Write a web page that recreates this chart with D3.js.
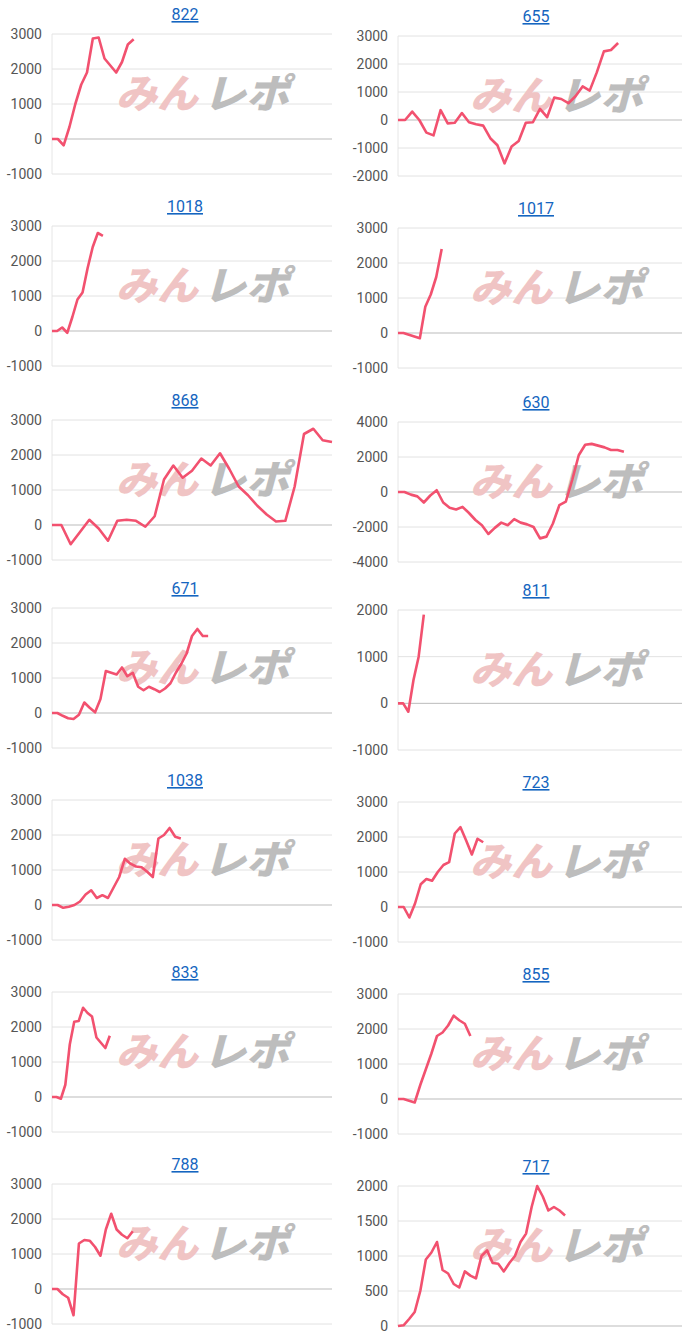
<!DOCTYPE html><html><head><meta charset="utf-8">
<script src="https://d3js.org/d3.v7.min.js"></script>
<style>body{margin:0;background:#fff}</style></head><body>
<svg id="c" width="700" height="1338"></svg>
<script>
const titles=["822","655","1018","1017","868","630","671","811","1038","723","833","855","788","717"];
const s822=[0,0,-180,350,1000,1550,1900,2870,2900,2300,2100,1900,2200,2700,2850];
const s655=[0,0,300,0,-450,-550,350,-120,-100,250,-80,-150,-200,-650,-900,-1550,-950,-750,-100,-80,400,100,800,750,600,850,1200,1050,1700,2450,2500,2750];
const s1018=[0,0,100,-50,400,900,1100,1800,2400,2800,2720];
const s1017=[0,0,-50,-100,-150,750,1100,1600,2400];
const s868=[0,0,-550,-200,150,-100,-450,120,150,120,-50,250,1300,1700,1350,1550,1900,1700,2050,1600,1100,850,550,300,100,120,1100,2600,2750,2420,2370];
const s630=[0,0,-150,-250,-600,-200,100,-600,-900,-1000,-850,-1200,-1600,-1900,-2400,-2050,-1750,-1900,-1550,-1750,-1850,-2000,-2650,-2550,-1800,-750,-550,700,2100,2700,2750,2650,2550,2400,2400,2300];
const s671=[0,0,-80,-150,-170,-50,300,150,20,400,1200,1150,1100,1300,1050,1150,750,650,750,680,600,700,850,1150,1400,1700,2200,2400,2200,2200];
const s811=[0,0,-180,500,1000,1900];
const s1038=[0,0,-80,-50,0,100,300,420,200,280,200,500,800,1320,1180,1100,1080,950,800,1900,2000,2200,1950,1900];
const s723=[0,0,-300,100,650,800,750,1000,1200,1280,2100,2280,1900,1500,1950,1850];
const s833=[0,0,-50,350,1500,2150,2170,2550,2400,2300,1700,1550,1400,1750];
const s855=[0,0,-50,-100,400,850,1300,1800,1900,2100,2380,2250,2150,1800];
const s788=[0,0,-150,-250,-750,1300,1400,1380,1200,950,1700,2150,1700,1550,1450,1650];
const s717=[0,10,100,200,500,950,1050,1200,800,750,600,550,780,720,680,1000,1080,900,890,780,900,1000,1200,1320,1700,2000,1850,1650,1700,1650,1580];
const series=[s822,s655,s1018,s1017,s868,s630,s671,s811,s1038,s723,s833,s855,s788,s717];
const slots=[48,40,55,52,30,44,52,55,50,50,63,51,52,51];
const yMin=[-1000,-2000,-1000,-1000,-1000,-4000,-1000,-1000,-1000,-1000,-1000,-1000,-1000,0];
const yMax=[3000,3000,3000,3000,3000,4000,3000,2000,3000,3000,3000,3000,3000,2000];
const yStep=[1000,1000,1000,1000,1000,2000,1000,1000,1000,1000,1000,1000,1000,500];
const rowTitleY=[14,206,400,588,780,972,1164];

const svg=d3.select("#c");
series.forEach((data,i)=>{
  const row=Math.floor(i/2), col=i%2;
  const ty=rowTitleY[row]+(col?2:0);
  const x0=col?398:52, x1=col?682:332;
  const top=ty+20, bot=ty+160;
  const g=svg.append("g");
  g.append("text").attr("x",col?536:185).attr("y",ty+6).attr("text-anchor","middle")
    .attr("font-family","Roboto, Arial").attr("font-size",16).attr("fill","#1565c0")
    .attr("text-decoration","underline").text(titles[i]);
  const y=d3.scaleLinear().domain([yMin[i],yMax[i]]).range([bot,top]);
  const x=d3.scaleLinear().domain([0,slots[i]]).range([x0,x1]);
  const ticks=d3.range(yMin[i],yMax[i]+1,yStep[i]);
  g.append("line").attr("x1",x0).attr("x2",x0).attr("y1",top).attr("y2",bot).attr("stroke","#e6e6e6");
  ticks.forEach(t=>{
    g.append("line").attr("x1",x0).attr("x2",x1).attr("y1",y(t)).attr("y2",y(t))
      .attr("stroke",t===0?"#bbb":"#e2e2e2").attr("stroke-width",1);
    g.append("text").attr("x",x0-10).attr("y",y(t)+5).attr("text-anchor","end")
      .attr("font-family","Roboto, Arial").attr("font-size",14).attr("fill","#555").text(t);
  });
  const wx=col?470:116, wy=ty+94;
  g.append("text").attr("x",wx).attr("y",wy).attr("font-family","Noto Sans CJK JP")
    .attr("font-weight",900).attr("font-style","italic").attr("font-size",40)
    .attr("textLength",82).attr("lengthAdjust","spacingAndGlyphs").attr("fill","#f0c4c4").text("みん");
  g.append("text").attr("x",wx+87).attr("y",wy).attr("font-family","Noto Sans CJK JP")
    .attr("font-weight",900).attr("font-style","italic").attr("font-size",40)
    .attr("textLength",86).attr("lengthAdjust","spacingAndGlyphs").attr("fill","#bdbdbd").text("レポ");
  g.append("path").datum(data).attr("fill","none").attr("stroke","#f2516f").attr("stroke-width",2.6)
    .attr("stroke-linejoin","round")
    .attr("d",d3.line().x((d,j)=>x(j)).y(d=>y(d)));
});
</script></body></html>
